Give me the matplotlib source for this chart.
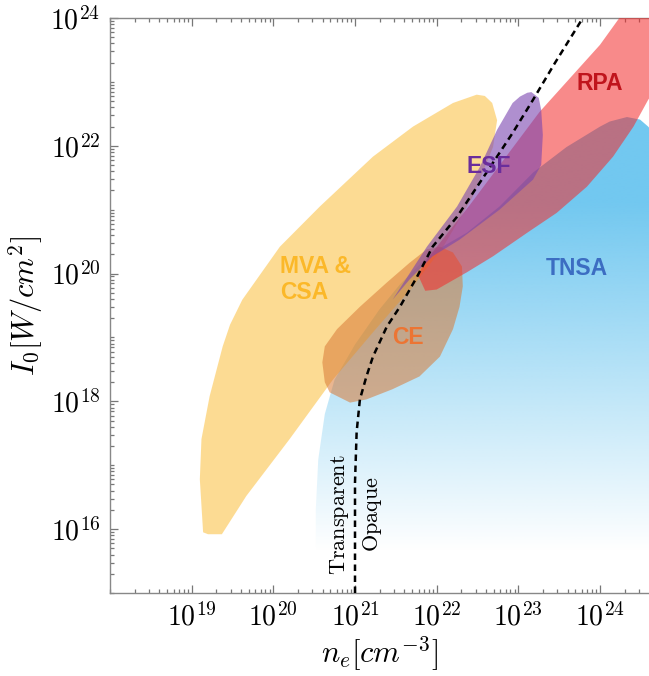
import numpy as np
import matplotlib
matplotlib.use("Agg")
import matplotlib.pyplot as plt
from matplotlib.patches import Polygon
from matplotlib.ticker import FixedLocator, LogLocator, FuncFormatter, NullFormatter

plt.rcParams['mathtext.fontset'] = 'cm'
plt.rcParams['font.family'] = ['DejaVu Sans']

# ---- data (log10 n_e [cm^-3], log10 I0 [W/cm^2]) ----
mva_ne = [19.14, 19.10, 19.12, 19.22, 19.38, 19.47, 19.62, 20.08, 20.57, 21.22, 21.71, 22.20,
          22.49, 22.59, 22.68, 22.74, 22.69, 22.44, 22.08, 21.71, 21.22, 20.73, 20.20, 19.67,
          19.37, 19.20]
mva_I = [15.95, 16.78, 17.41, 18.08, 18.86, 19.20, 19.59, 20.42, 21.05, 21.83, 22.30, 22.67,
         22.80, 22.78, 22.67, 22.40, 21.98, 21.20, 20.42, 19.80, 19.08, 18.34, 17.41, 16.52,
         15.92, 15.92]

ce_ne = [20.60, 20.63, 20.69, 20.94, 21.14, 21.46, 21.79, 22.04, 22.20, 22.28, 22.32, 22.31,
         22.20, 22.04, 21.88, 21.67, 21.39, 21.06, 20.78, 20.63]
ce_I = [18.61, 18.30, 18.14, 17.98, 18.03, 18.19, 18.39, 18.70, 19.13, 19.48, 19.80, 20.11,
        20.33, 20.42, 20.38, 20.17, 19.86, 19.48, 19.13, 18.86]

esf_ne = [23.02, 23.11, 23.16, 23.25, 23.28, 23.30, 23.28, 23.18, 22.77, 22.28, 21.95, 21.67,
          21.46, 21.88, 22.25, 22.53, 22.74, 22.93]
esf_I = [22.77, 22.83, 22.84, 22.75, 22.56, 22.17, 21.70, 21.47, 21.00, 20.53, 20.27, 19.91,
         19.59, 20.42, 21.05, 21.67, 22.25, 22.67]

rpa_ne = [21.77, 21.86, 22.41, 23.26, 24.00, 24.31, 24.80, 25.10, 24.59, 24.41, 24.16, 23.84,
          23.47, 23.11, 22.69, 22.37, 22.00, 21.86]
rpa_I = [19.98, 20.19, 21.08, 22.53, 23.58, 24.13, 24.44, 23.66, 22.72, 22.30, 21.83, 21.36,
         20.95, 20.64, 20.27, 20.02, 19.75, 19.73]

tnsa_ne = [25.22, 24.73, 24.59, 24.49, 24.33, 24.12, 24.00, 23.59, 23.18, 22.77, 22.37, 21.95,
           21.79, 21.55, 21.30, 21.00, 20.75, 20.63, 20.55, 20.52, 20.52, 25.22]
tnsa_I = [21.16, 22.09, 22.30, 22.41, 22.45, 22.38, 22.30, 21.98, 21.58, 21.05, 20.64, 20.33,
          20.14, 19.83, 19.44, 18.89, 18.34, 17.80, 17.09, 16.31, 15.53, 15.53]

# transparency threshold (dashed)
thr_ne = [21.00, 21.00, 21.02, 21.06, 21.14, 21.22, 21.39, 21.55, 21.76, 21.95, 22.25, 22.61,
          22.93, 23.18, 23.45, 23.79]
thr_I = [15.00, 16.73, 17.52, 18.03, 18.39, 18.70, 19.17, 19.48, 19.95, 20.42, 20.89, 21.58,
         22.20, 22.72, 23.30, 24.00]

x_ticks = [19, 20, 21, 22, 23, 24]
y_ticks = [16, 18, 20, 22, 24]

labels = ["MVA &\nCSA", "CE", "ESF", "RPA", "TNSA"]
label_ne = [20.08, 21.65, 22.64, 24.00, 23.72]
label_I = [19.91, 19.00, 21.67, 22.97, 20.08]
label_colors = ["#FBB829", "#EC7534", "#6A2D9C", "#C0141C", "#3C6DC2"]

# ---- figure ----
W, H = 649, 676
fig = plt.figure(figsize=(W / 100, H / 100), dpi=100)
pos = [110 / W, (H - 593) / H, 539 / W, 575 / H]
xlim_log = (18.0, 24.6)
ylim_log = (15.0, 24.0)

# gradient (TNSA) in a linear helper axes underneath
axg = fig.add_axes(pos, zorder=0)
axg.set_xlim(*xlim_log)
axg.set_ylim(*ylim_log)
axg.axis('off')
ny = 400
yy = np.linspace(ylim_log[0], ylim_log[1], ny)
alpha = np.clip((yy - 15.65) / (21.1 - 15.65), 0, 1)
rgba = np.zeros((ny, 1, 4))
rgba[..., 0] = 114 / 255
rgba[..., 1] = 200 / 255
rgba[..., 2] = 240 / 255
rgba[..., 3] = alpha[:, None]
im = axg.imshow(rgba, extent=[xlim_log[0], xlim_log[1], ylim_log[0], ylim_log[1]],
                origin='lower', aspect='auto', interpolation='bilinear')
tpoly = Polygon(np.column_stack([tnsa_ne, tnsa_I]), closed=True, facecolor='none',
                edgecolor='none', transform=axg.transData)
axg.add_patch(tpoly)
im.set_clip_path(tpoly)

ax = fig.add_axes(pos, zorder=1)
ax.patch.set_alpha(0)
ax.set_xscale('log')
ax.set_yscale('log')
ax.set_xlim(10 ** xlim_log[0], 10 ** xlim_log[1])
ax.set_ylim(10 ** ylim_log[0], 10 ** ylim_log[1])


def region(xs, ys, color, alpha, z):
    p = Polygon(np.column_stack([np.power(10.0, xs), np.power(10.0, ys)]), closed=True,
                facecolor=color, alpha=alpha, edgecolor='none', zorder=z, joinstyle='round')
    ax.add_patch(p)


region(mva_ne, mva_I, "#FBB829", 0.5, 2)
region(ce_ne, ce_I, "#D97A36", 0.55, 3)
region(rpa_ne, rpa_I, "#F42A2A", 0.55, 4)
region(esf_ne, esf_I, "#7A44B0", 0.6, 5)

ax.plot(np.power(10.0, thr_ne), np.power(10.0, thr_I), color='black', lw=1.8,
        ls=(0, (2.6, 1.8)), zorder=6)

for t, x, y, c in zip(labels, label_ne, label_I, label_colors):
    ha = 'left' if '\n' in t else 'center'
    ax.text(10 ** x, 10 ** y, t, color=c, fontsize=16.5, fontweight='bold',
            family=['Liberation Sans', 'DejaVu Sans'], ha=ha, va='center',
            linespacing=1.2, zorder=7)

ax.text(10 ** 20.81, 10 ** 16.22, r'$\mathrm{Transparent}$', rotation=90, fontsize=16,
        ha='center', va='center', zorder=7)
ax.text(10 ** 21.21, 10 ** 16.23, r'$\mathrm{Opaque}$', rotation=90, fontsize=16,
        ha='center', va='center', zorder=7)

# axes styling
fmt = FuncFormatter(lambda v, p: r'$10^{%d}$' % int(round(np.log10(v))))
ax.xaxis.set_major_locator(FixedLocator([10.0 ** v for v in x_ticks]))
ax.yaxis.set_major_locator(FixedLocator([10.0 ** v for v in y_ticks]))
ax.xaxis.set_minor_locator(LogLocator(base=10, subs=np.arange(1, 10), numticks=100))
ax.yaxis.set_minor_locator(LogLocator(base=10, subs=np.arange(1, 10), numticks=100))
ax.xaxis.set_major_formatter(fmt)
ax.yaxis.set_major_formatter(fmt)
ax.xaxis.set_minor_formatter(NullFormatter())
ax.yaxis.set_minor_formatter(NullFormatter())
ax.tick_params(which='both', direction='in', top=True, right=False, color='#777777',
               labelsize=20, width=0.9)
ax.tick_params(which='major', length=6, pad=7)
ax.tick_params(which='minor', length=3)
for s in ['left', 'bottom', 'top']:
    ax.spines[s].set_color('#888888')
    ax.spines[s].set_linewidth(1.0)
ax.spines['right'].set_visible(False)

ax.set_xlabel(r'$n_e[cm^{-3}]$', fontsize=22, labelpad=2)
ax.set_ylabel(r'$I_0[W/cm^2]$', fontsize=22, labelpad=4)

fig.savefig('out.png', dpi=100)
